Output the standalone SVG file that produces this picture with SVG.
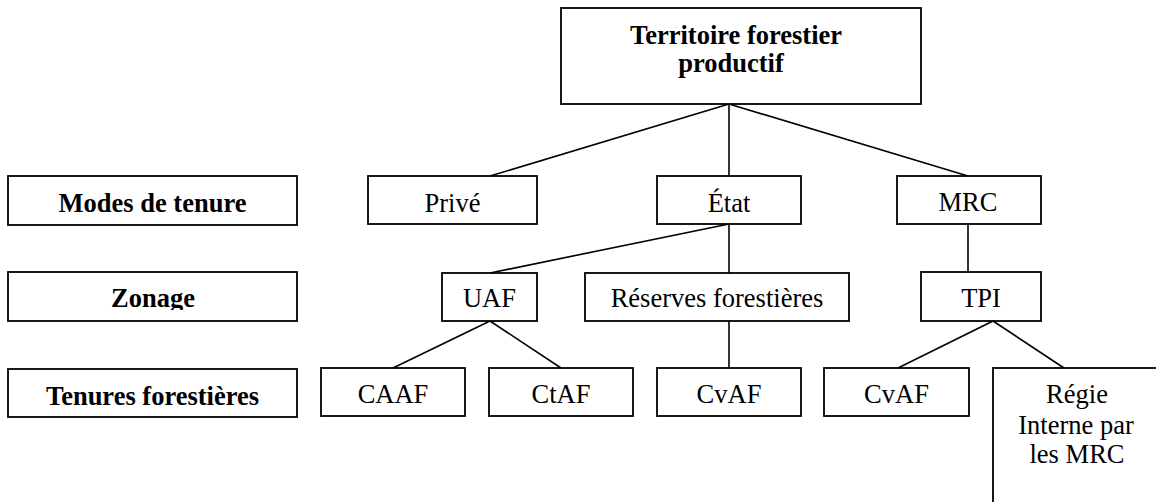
<svg xmlns="http://www.w3.org/2000/svg" width="1156" height="502" viewBox="0 0 1156 502">
  <style>
    .box { fill: #ffffff; stroke: #000000; stroke-width: 1.8; }
    .link { stroke: #000000; stroke-width: 1.6; fill: none; }
    .t { font-family: "Liberation Serif", "Times New Roman", serif; font-size: 26.5px; fill: #000000; text-anchor: middle; }
    .b { font-weight: bold; }
  </style>
  <defs>
    <clipPath id="zonageClip">
      <rect x="8" y="272" width="289" height="38"/>
    </clipPath>
  </defs>
  <rect width="1156" height="502" fill="#ffffff"/>

  <!-- connectors -->
  <g id="connectors">
    <line class="link" x1="729" y1="104" x2="490" y2="176"/>
    <line class="link" x1="729" y1="104" x2="729" y2="176"/>
    <line class="link" x1="729" y1="104" x2="968" y2="176"/>
    <line class="link" x1="729" y1="224" x2="490" y2="273"/>
    <line class="link" x1="729" y1="224" x2="729" y2="273"/>
    <line class="link" x1="968" y1="224" x2="968" y2="272"/>
    <line class="link" x1="490" y1="321" x2="393" y2="368"/>
    <line class="link" x1="490" y1="321" x2="561" y2="368"/>
    <line class="link" x1="729" y1="321" x2="729" y2="368"/>
    <line class="link" x1="993" y1="321" x2="898" y2="368"/>
    <line class="link" x1="993" y1="321" x2="1064" y2="368"/>
  </g>

  <!-- root -->
  <g id="territoire">
    <rect class="box" x="561" y="8" width="360" height="96"/>
    <text class="t b" x="736" y="44">Territoire forestier</text>
    <text class="t b" x="731" y="72">productif</text>
  </g>

  <!-- row labels -->
  <g id="label-modes">
    <rect class="box" x="8" y="176" width="289" height="49"/>
    <text class="t b" x="152.5" y="212">Modes de tenure</text>
  </g>
  <g id="label-zonage">
    <rect class="box" x="8" y="272" width="289" height="49"/>
    <text class="t b" x="153" y="307" clip-path="url(#zonageClip)">Zonage</text>
  </g>
  <g id="label-tenures">
    <rect class="box" x="8" y="369" width="289" height="48"/>
    <text class="t b" x="152.5" y="405">Tenures forestières</text>
  </g>

  <!-- modes de tenure -->
  <g id="prive">
    <rect class="box" x="368" y="176" width="169" height="48"/>
    <text class="t" x="452.5" y="212">Privé</text>
  </g>
  <g id="etat">
    <rect class="box" x="657" y="176" width="144" height="48"/>
    <text class="t" x="729" y="212">État</text>
  </g>
  <g id="mrc">
    <rect class="box" x="897" y="176" width="144" height="48"/>
    <text class="t" x="968" y="211">MRC</text>
  </g>

  <!-- zonage -->
  <g id="uaf">
    <rect class="box" x="442" y="273" width="95" height="48"/>
    <text class="t" x="489.5" y="307">UAF</text>
  </g>
  <g id="reserves">
    <rect class="box" x="585" y="273" width="264" height="48"/>
    <text class="t" x="717" y="307">Réserves forestières</text>
  </g>
  <g id="tpi">
    <rect class="box" x="921" y="272" width="120" height="49"/>
    <text class="t" x="981" y="307">TPI</text>
  </g>

  <!-- tenures forestières -->
  <g id="caaf">
    <rect class="box" x="321" y="368" width="144" height="48"/>
    <text class="t" x="393" y="403">CAAF</text>
  </g>
  <g id="ctaf">
    <rect class="box" x="489" y="368" width="144" height="48"/>
    <text class="t" x="561" y="403">CtAF</text>
  </g>
  <g id="cvaf-reserves">
    <rect class="box" x="657" y="368" width="144" height="48"/>
    <text class="t" x="729" y="403">CvAF</text>
  </g>
  <g id="cvaf-tpi">
    <rect class="box" x="824" y="368" width="145" height="48"/>
    <text class="t" x="896.5" y="403">CvAF</text>
  </g>
  <g id="regie">
    <rect class="box" x="993" y="368" width="200" height="200"/>
    <text class="t" x="1077" y="403">Régie</text>
    <text class="t" x="1076" y="434">Interne par</text>
    <text class="t" x="1077" y="463">les MRC</text>
  </g>
</svg>
